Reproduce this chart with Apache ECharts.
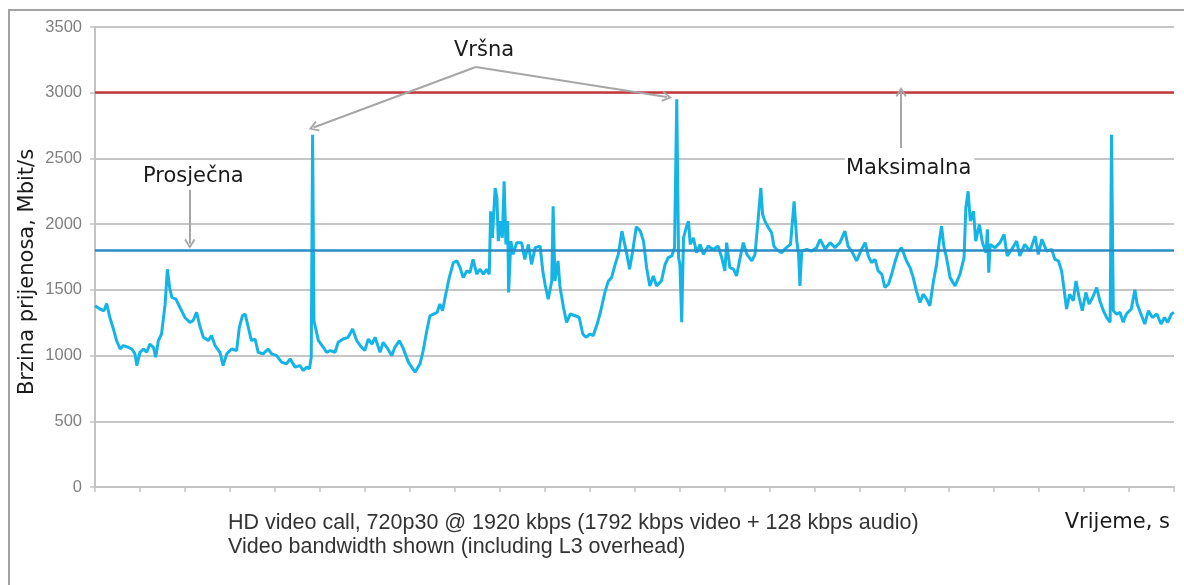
<!DOCTYPE html>
<html>
<head>
<meta charset="utf-8">
<script src="https://cdn.jsdelivr.net/npm/echarts@6/dist/echarts.min.js"></script>
<style>
  html, body { margin: 0; padding: 0; background: #fff; }
  #chart { width: 1184px; height: 585px; }
</style>
</head>
<body>
<div id="chart"></div>
<script>
// vrijeme (proizvoljne jedinice, 24 podjele po 10) i izmjerena brzina, Mbit/s
var times = [
  0, 1.1, 2, 2.6, 3.3, 4.1, 4.8, 5.6, 6.3, 7.4, 8.2, 8.9, 9.3, 10, 10.8, 11.5, 12.2, 13, 13.5, 14.1,
  14.8, 15.6, 16.1, 16.6, 17.1, 18, 18.9, 20, 21.1, 21.8, 22.6, 23.4, 24.1, 25.2, 25.9, 26.7, 27.8, 28.5, 29.3, 30.4,
  31.5, 32.1, 32.8, 33.4, 34.1, 34.8, 35.6, 36.3, 37.4, 38.5, 39.3, 40.4, 41.5, 42.6, 43.4, 44.5, 45.6, 46.3, 47.1, 47.7,
  48.1, 48.4, 48.7, 49.7, 50.8, 51.5, 52.3, 53.4, 54.1, 55.2, 56.3, 57.3, 58.2, 59.3, 60, 60.8, 61.6, 62.3, 63.4, 64.1,
  64.9, 66, 66.7, 67.7, 68.6, 69.7, 70.7, 71.2, 72.3, 73, 73.8, 74.5, 75.3, 76.1, 76.7, 77.3, 78.1, 78.8, 79.7, 80.5,
  81.2, 81.9, 82.7, 83.4, 84.1, 84.9, 85.6, 86.4, 87.1, 87.7, 88, 88.4, 89, 89.4, 89.7, 90.2, 90.6, 91, 91.4, 91.8,
  92, 92.5, 93, 93.8, 94.9, 95.6, 96.4, 97.1, 97.9, 99, 99.6, 100.1, 100.8, 101.6, 101.9, 102.3, 103, 103.4, 104.2, 104.9,
  105.7, 106.8, 107.7, 108.5, 109.2, 110.1, 110.8, 111.7, 112.5, 113.4, 114.2, 114.9, 115.7, 116.4, 117.2, 117.6, 118.3, 118.9, 119.6, 120.4,
  121.3, 122, 122.7, 123.4, 124.2, 124.9, 126, 126.8, 127.5, 128.3, 128.9, 129.4, 129.8, 130.1, 130.5, 130.9, 131.5, 132, 132.4, 133.1,
  133.8, 134.6, 135.3, 136.4, 137.5, 138.6, 139.4, 140.1, 140.5, 141.2, 142, 142.7, 143.5, 144.2, 145, 146.1, 146.8, 147.4, 148.1, 148.5,
  149, 149.8, 150.5, 151, 151.6, 152.7, 153.8, 154.7, 155.5, 156.1, 156.5, 156.8, 157.2, 158.3, 159.4, 160.5, 161.3, 162.4, 163.5, 164.6,
  165.7, 166.8, 167.5, 168.3, 169.4, 170.5, 171.3, 172, 172.7, 173.5, 174.2, 175, 175.7, 176.5, 177.2, 178, 178.7, 179.4, 180.5, 181.3,
  182, 182.7, 183.5, 184.2, 185, 185.7, 186.5, 187.2, 187.8, 188.3, 188.8, 189.4, 190.2, 191.3, 192.4, 193.3, 193.7, 194.2, 194.7, 195.4,
  195.9, 196.7, 197.4, 198.2, 198.5, 198.8, 199.1, 200.2, 201.3, 202.2, 202.9, 203.9, 205, 205.7, 206.8, 208, 209.1, 209.8, 210.6, 211.7,
  212.8, 213.5, 214.3, 215, 215.5, 216.1, 216.8, 217.6, 218.2, 218.9, 219.6, 220.4, 221.1, 221.9, 222.8, 223.5, 224.3, 225, 225.8, 226.1,
  226.5, 227.2, 228, 228.7, 229.4, 230.5, 231.3, 231.8, 232.8, 233.5, 234.3, 235.2, 236.2, 237.1, 237.9, 238.6, 239.4, 240
];
var rates = [
  1379, 1354, 1341, 1396, 1290, 1202, 1114, 1050, 1076, 1063, 1050, 1013, 924, 1025, 1050, 1025, 1088, 1063, 987, 1114,
  1164, 1391, 1657, 1518, 1442, 1429, 1366, 1290, 1253, 1265, 1328, 1215, 1139, 1114, 1152, 1076, 1025, 924, 1013, 1050,
  1038, 1215, 1303, 1316, 1215, 1114, 1126, 1025, 1013, 1050, 1013, 1000, 950, 937, 975, 912, 924, 886, 912, 899,
  987, 2680, 1265, 1114, 1063, 1025, 1038, 1025, 1101, 1126, 1139, 1202, 1114, 1063, 1038, 1126, 1088, 1139, 1025, 1101,
  1063, 1000, 1063, 1114, 1051, 950, 899, 874, 937, 1038, 1189, 1303, 1316, 1328, 1392, 1341, 1480, 1593, 1707, 1720,
  1669, 1593, 1644, 1631, 1732, 1619, 1657, 1619, 1657, 1619, 2098, 1896, 2275, 2200, 1871, 2023, 1896, 2326, 1846, 2023,
  1480, 1871, 1770, 1859, 1859, 1732, 1846, 1694, 1821, 1833, 1644, 1543, 1429, 1568, 2136, 1568, 1720, 1530, 1366, 1253,
  1316, 1303, 1290, 1164, 1139, 1164, 1151, 1240, 1341, 1480, 1568, 1593, 1694, 1770, 1947, 1934, 1770, 1657, 1795, 1980,
  1947, 1871, 1669, 1530, 1606, 1530, 1568, 1694, 1745, 1758, 1821, 2950, 1745, 1694, 1253, 1896, 1972, 2023, 1846, 1896,
  1783, 1846, 1770, 1833, 1808, 1833, 1745, 1644, 1859, 1669, 1657, 1606, 1745, 1859, 1770, 1720, 1770, 1997, 2275, 2073,
  2023, 1972, 1934, 1833, 1808, 1783, 1821, 1846, 2174, 1871, 1770, 1530, 1795, 1808, 1795, 1821, 1884, 1808, 1859, 1821,
  1859, 1947, 1833, 1795, 1720, 1808, 1859, 1758, 1707, 1732, 1644, 1619, 1518, 1543, 1619, 1720, 1795, 1821, 1720, 1669,
  1593, 1492, 1404, 1467, 1429, 1379, 1568, 1694, 1871, 1985, 1833, 1745, 1593, 1530, 1619, 1745, 2124, 2250, 2023, 2098,
  1871, 1997, 1859, 1783, 1960, 1631, 1846, 1821, 1859, 1922, 1758, 1808, 1871, 1758, 1846, 1795, 1909, 1770, 1884, 1795,
  1808, 1732, 1720, 1644, 1518, 1354, 1467, 1417, 1568, 1442, 1341, 1480, 1392, 1442, 1518, 1417, 1341, 1290, 1253, 2680,
  1341, 1316, 1328, 1253, 1316, 1354, 1500, 1392, 1303, 1240, 1341, 1290, 1316, 1240, 1290, 1253, 1316, 1328
];
var yTicks = [0, 500, 1000, 1500, 2000, 2500, 3000, 3500];
var maxRate = 3000;   // Maksimalna
var avgRate = 1800;   // Prosječna
// strelice napomena: [od, do] u koordinatama podataka
var arrows = [
  [[84.7, 3196], [48.6, 2735]],
  [[84.7, 3196], [127.2, 2968]],
  [[21.1, 2262], [21.1, 1850]],
  [[179.3, 2580], [179.3, 3006]]
];

var myChart = echarts.init(document.getElementById('chart'));

var seriesData = times.map(function (t, i) { return [t, rates[i]]; });
var chevron = 'path://M5,0 L10,8.5 L8.6,9.6 L5,3.2 L1.4,9.6 L0,8.5 Z';
var arrowStyle = { color: '#a6a6a6', width: 2, type: 'solid' };

var markData = [
  { yAxis: maxRate, lineStyle: { color: '#c4383b', width: 2.5, type: 'solid' } },
  { yAxis: avgRate, lineStyle: { color: '#2a8cc4', width: 2.5, type: 'solid' } }
];
arrows.forEach(function (a) {
  markData.push([
    { coord: a[0], symbol: 'none', lineStyle: arrowStyle },
    { coord: a[1], symbol: chevron, symbolSize: [11, 10] }
  ]);
});

var option = {
  animation: false,
  grid: { left: 95, right: 10, top: 27, bottom: 98 },
  xAxis: {
    type: 'value',
    min: 0,
    max: 240,
    interval: 10,
    axisLine: { lineStyle: { color: '#c3c3c3', width: 2 } },
    axisTick: { show: true, length: 5, lineStyle: { color: '#c3c3c3', width: 1.5 } },
    axisLabel: { show: false },
    splitLine: { show: false }
  },
  yAxis: {
    type: 'value',
    min: yTicks[0],
    max: yTicks[yTicks.length - 1],
    interval: 500,
    axisLine: { show: true, lineStyle: { color: '#c3c3c3', width: 2 } },
    axisTick: { show: true, length: 5, lineStyle: { color: '#c3c3c3', width: 1.5 } },
    axisLabel: {
      margin: 13,
      color: '#7f7f7f',
      fontFamily: 'Liberation Sans',
      fontSize: 16.5,
      formatter: function (v) { return String(v); }
    },
    splitLine: { lineStyle: { color: '#c6c6c6', width: 2 } }
  },
  series: [{
    type: 'line',
    data: seriesData,
    showSymbol: false,
    symbol: 'none',
    lineStyle: { color: '#14b4e6', width: 3 },
    markLine: {
      silent: true,
      animation: false,
      symbol: ['none', 'none'],
      label: { show: false },
      emphasis: { disabled: true },
      data: markData
    }
  }],
  graphic: [
    // okvir slike
    { type: 'line', shape: { x1: 9, y1: 10, x2: 9, y2: 585 }, style: { stroke: '#a3a3a3', lineWidth: 2 } },
    { type: 'line', shape: { x1: 8, y1: 10, x2: 1184, y2: 10 }, style: { stroke: '#a3a3a3', lineWidth: 2 } },
    {
      type: 'text', x: 28, y: 272, rotation: Math.PI / 2,
      style: { text: 'Brzina prijenosa, Mbit/s', font: '21px "DejaVu Sans"', fill: '#1a1a1a', align: 'center', verticalAlign: 'middle' }
    },
    {
      type: 'text', x: 484, y: 51,
      style: { text: 'Vršna', font: '21px "DejaVu Sans"', fill: '#1a1a1a', align: 'center', verticalAlign: 'middle' }
    },
    {
      type: 'text', x: 143, y: 177,
      style: { text: 'Prosječna', font: '21px "DejaVu Sans"', fill: '#1a1a1a', align: 'left', verticalAlign: 'middle' }
    },
    {
      type: 'text', x: 845, y: 169, z: 10,
      style: {
        text: 'Maksimalna', font: '21px "DejaVu Sans"', fill: '#1a1a1a', align: 'left', verticalAlign: 'middle',
        backgroundColor: '#fff', padding: [2, 3, 2, 1]
      }
    },
    {
      type: 'text', x: 1170, y: 523,
      style: { text: 'Vrijeme, s', font: '21px "DejaVu Sans"', fill: '#1a1a1a', align: 'right', verticalAlign: 'middle' }
    },
    {
      type: 'text', x: 228, y: 523,
      style: { text: 'HD video call, 720p30 @ 1920 kbps (1792 kbps video + 128 kbps audio)', font: '21.5px "Liberation Sans"', fill: '#333333', verticalAlign: 'middle' }
    },
    {
      type: 'text', x: 228, y: 547,
      style: { text: 'Video bandwidth shown (including L3 overhead)', font: '21.5px "Liberation Sans"', fill: '#333333', verticalAlign: 'middle' }
    }
  ]
};

myChart.setOption(option);
</script>
</body>
</html>
